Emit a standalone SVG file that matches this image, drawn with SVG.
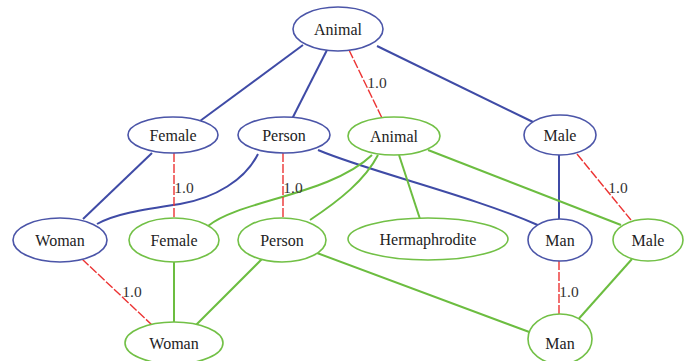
<svg xmlns="http://www.w3.org/2000/svg" width="690" height="361" viewBox="0 0 690 361">
<style>
.b{fill:#fff;stroke:#4b55a8;stroke-width:1.6}
.g{fill:#fff;stroke:#72c046;stroke-width:1.6}
text{font-family:'Liberation Serif','Times New Roman',Times,serif}
.t{font-size:16px;fill:#222;text-anchor:middle}
.l{font-size:15.5px;fill:#333;text-anchor:middle}
.eb{fill:none;stroke:#3f4ba6;stroke-width:2}
.eg{fill:none;stroke:#6cbd40;stroke-width:2}
.er{fill:none;stroke:#ec3434;stroke-width:1.4;stroke-dasharray:9 2}
</style>
<rect width="690" height="361" fill="#fff"/>
<g id="connectors">
<line class="eb" x1="303" y1="45" x2="200" y2="121"/>
<line class="eb" x1="327" y1="50" x2="292" y2="119"/>
<line class="eb" x1="377" y1="46" x2="533" y2="122"/>
<line class="eb" x1="152" y1="153" x2="83" y2="219"/>
<path class="eb" d="M258,154 C245,180 215,198 180,204 C140,210 115,214 97,224"/>
<path class="eb" d="M318,150 C370,172 470,195 540,226"/>
<line class="eb" x1="559" y1="155" x2="559" y2="219"/>
<path class="eg" d="M372,155 C330,195 240,200 208,226"/>
<path class="eg" d="M378,155 C365,180 340,200 310,220"/>
<line class="eg" x1="399" y1="155" x2="420" y2="219"/>
<line class="eg" x1="428" y1="150" x2="621" y2="225"/>
<line class="eg" x1="174" y1="262" x2="174" y2="322"/>
<line class="eg" x1="262" y1="259" x2="196" y2="325"/>
<line class="eg" x1="317" y1="253" x2="532" y2="333"/>
<line class="eg" x1="632" y1="259" x2="575" y2="323"/>
<line class="er" x1="349" y1="50" x2="382" y2="118"/>
<line class="er" x1="174" y1="153" x2="174" y2="218"/>
<line class="er" x1="283" y1="153" x2="283" y2="218"/>
<line class="er" x1="577" y1="154" x2="631" y2="220"/>
<line class="er" x1="82" y1="259" x2="152" y2="325"/>
<line class="er" x1="559" y1="261" x2="559" y2="315"/>
<text class="l" x="377" y="88">1.0</text>
<text class="l" x="184" y="193">1.0</text>
<text class="l" x="293" y="193">1.0</text>
<text class="l" x="618" y="193">1.0</text>
<text class="l" x="132" y="297">1.0</text>
<text class="l" x="569" y="297">1.0</text>
</g>
<g id="animal-top"><ellipse class="b" cx="338" cy="29" rx="45" ry="22"/><text class="t" x="338" y="35">Animal</text></g>
<g id="female-blue"><ellipse class="b" cx="173" cy="135" rx="45" ry="18"/><text class="t" x="173" y="141">Female</text></g>
<g id="person-blue"><ellipse class="b" cx="284" cy="135" rx="46" ry="18"/><text class="t" x="284" y="141">Person</text></g>
<g id="animal-green"><ellipse class="g" cx="394" cy="136" rx="46" ry="19"/><text class="t" x="394" y="142">Animal</text></g>
<g id="male-blue"><ellipse class="b" cx="560" cy="135" rx="36" ry="20"/><text class="t" x="560" y="141">Male</text></g>
<g id="woman-blue"><ellipse class="b" cx="60" cy="240" rx="47" ry="22"/><text class="t" x="60" y="246">Woman</text></g>
<g id="female-green"><ellipse class="g" cx="174" cy="240" rx="45" ry="22"/><text class="t" x="174" y="246">Female</text></g>
<g id="person-green"><ellipse class="g" cx="282" cy="240" rx="44" ry="22"/><text class="t" x="282" y="246">Person</text></g>
<g id="hermaphrodite"><ellipse class="g" cx="428" cy="239" rx="80" ry="21"/><text class="t" x="428" y="245">Hermaphrodite</text></g>
<g id="man-blue"><ellipse class="b" cx="560" cy="240" rx="32" ry="21"/><text class="t" x="560" y="246">Man</text></g>
<g id="male-green"><ellipse class="g" cx="648" cy="240" rx="35" ry="21"/><text class="t" x="648" y="246">Male</text></g>
<g id="woman-green"><ellipse class="g" cx="174" cy="343" rx="49" ry="21"/><text class="t" x="174" y="349">Woman</text></g>
<g id="man-green"><ellipse class="g" cx="560" cy="339" rx="32" ry="25"/><text class="t" x="560" y="349">Man</text></g>
</svg>
